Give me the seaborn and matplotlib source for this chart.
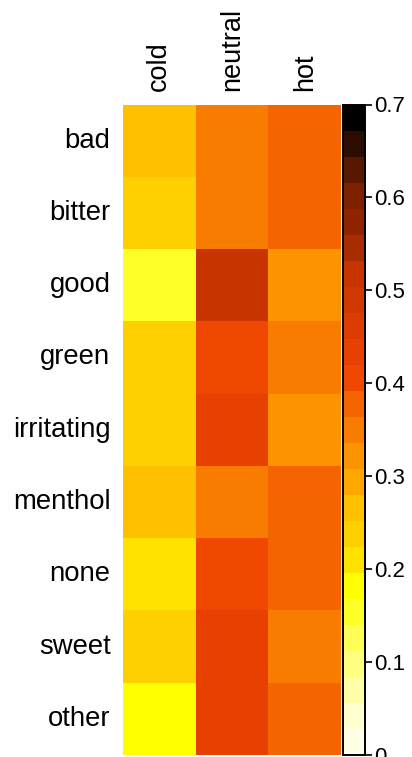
import numpy as np
import pandas as pd
import matplotlib
matplotlib.use("Agg")
import matplotlib.pyplot as plt
from matplotlib.colors import ListedColormap
import seaborn as sns

rows = ["bad", "bitter", "good", "green", "irritating", "menthol", "none", "sweet", "other"]
cols = ["cold", "neutral", "hot"]
cold = [0.266, 0.238, 0.154, 0.238, 0.238, 0.266, 0.210, 0.238, 0.182]
neutral = [0.350, 0.350, 0.518, 0.406, 0.434, 0.350, 0.406, 0.434, 0.434]
hot = [0.378, 0.378, 0.322, 0.350, 0.322, 0.378, 0.378, 0.350, 0.378]
cbar_ticks = [0.0, 0.1, 0.2, 0.3, 0.4, 0.5, 0.6, 0.7]
cbar_ticklabels = ["0", "0.1", "0.2", "0.3", "0.4", "0.5", "0.6", "0.7"]

palette = ["#ffffe8", "#ffffd0", "#ffffa8", "#ffff80", "#ffff58", "#ffff28", "#ffff00",
           "#ffe200", "#ffd000", "#ffc000", "#ffa800", "#fc9400", "#f87c00", "#f46400",
           "#f04800", "#e84000", "#dc3c00", "#d03800", "#c83400", "#a82c00", "#902400",
           "#7c2000", "#581800", "#2c0c00", "#000000"]
cmap = ListedColormap(palette)

df = pd.DataFrame({"cold": cold, "neutral": neutral, "hot": hot}, index=rows)[cols]

sns.set_style("white")
plt.rcParams["font.family"] = ["Liberation Sans", "DejaVu Sans"]
plt.rcParams["text.color"] = "black"
plt.rcParams["xtick.color"] = "black"
plt.rcParams["ytick.color"] = "black"
plt.rcParams["xtick.labelcolor"] = "black"
plt.rcParams["ytick.labelcolor"] = "black"

W, H = 412, 757
fig = plt.figure(figsize=(W / 100, H / 100), dpi=100)
ax = fig.add_axes([123 / W, 2 / H, 218 / W, 650.5 / H])
cax = fig.add_axes([342.5 / W, 2 / H, 22 / W, 650.5 / H])

sns.heatmap(df, ax=ax, cbar_ax=cax, cmap=cmap, vmin=0, vmax=0.7, linewidths=0)

ax.xaxis.tick_top()
ax.set_xlabel("")
ax.set_ylabel("")
ax.set_xticklabels(cols, rotation=90, fontsize=19.5, va="bottom", ha="center", color="black")
ax.set_yticklabels(rows, rotation=0, fontsize=19.8, color="black")
ax.tick_params(axis="both", length=0, pad=9)
ax.tick_params(axis="x", pad=10)

cb = ax.collections[0].colorbar
cb.set_ticks(cbar_ticks)
cb.set_ticklabels(cbar_ticklabels)
cax.tick_params(labelsize=16, length=5, width=1.2, color="black", labelcolor="black",
                pad=2, direction="out")
cb.outline.set_edgecolor("black")
cb.outline.set_linewidth(1.4)
cb.outline.set_visible(True)

fig.savefig("out.png", dpi=100)
